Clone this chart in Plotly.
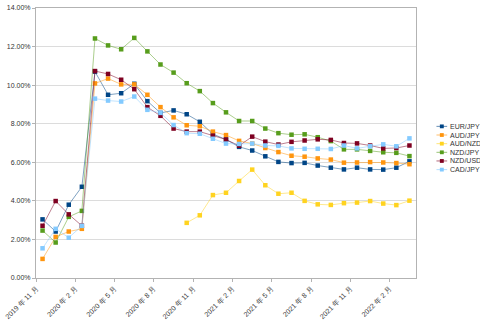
import plotly.graph_objects as go
import pandas as pd

# Monthly periods, Nov 2019 .. Mar 2022
months = pd.period_range("2019-11", "2022-03", freq="M")
month_labels = [f"{p.year} 年 {p.month} 月" for p in months]

eur_jpy = [3.04, 2.41, 3.80, 4.73, 10.70, 9.50, 9.58, 10.07, 9.17, 8.56,
           8.69, 8.49, 8.10, 7.46, 7.18, 6.80, 6.61, 6.31, 6.02, 5.96,
           5.97, 5.83, 5.72, 5.63, 5.72, 5.63, 5.62, 5.72, 6.05]
aud_jpy = [0.99, 2.13, 2.41, 2.55, 10.09, 10.34, 10.04, 10.04, 9.50, 8.86,
           8.33, 7.92, 7.87, 7.59, 7.41, 7.11, 6.97, 6.74, 6.53, 6.34,
           6.29, 6.20, 6.14, 5.98, 5.99, 6.01, 5.99, 5.96, 5.90]
aud_nzd = [None] * 11 + [2.86, 3.25, 4.30, 4.42, 5.03, 5.62, 4.81, 4.37, 4.42,
                         4.00, 3.82, 3.79, 3.88, 3.91, 3.99, 3.86, 3.78, 4.01]
nzd_jpy = [2.46, 1.84, 3.17, 3.48, 12.42, 12.06, 11.86, 12.45, 11.75, 11.07,
           10.65, 10.10, 9.69, 9.07, 8.59, 8.14, 8.14, 7.75, 7.51, 7.43,
           7.45, 7.30, 7.10, 6.67, 6.67, 6.59, 6.52, 6.49, 6.32]
nzd_usd = [2.71, 3.99, 3.30, 2.71, 10.73, 10.58, 10.28, 9.79, 8.86, 8.41,
           7.75, 7.59, 7.59, 7.38, 7.18, 6.86, 7.33, 7.07, 6.92, 7.06,
           7.13, 7.19, 7.16, 7.00, 6.98, 6.87, 6.72, 6.74, 6.87]
cad_jpy = [1.54, 2.55, 2.09, 2.70, 9.30, 9.20, 9.15, 9.41, 8.72, 8.56,
           7.93, 7.51, 7.48, 7.22, 6.97, 6.95, 6.97, 6.87, 6.85, 6.72,
           6.70, 6.70, 6.69, 6.87, 6.72, 6.83, 6.93, 6.83, 7.24]

series = [
    ("EUR/JPY", eur_jpy, "#004586"),
    ("AUD/JPY", aud_jpy, "#ff950e"),
    ("AUD/NZD", aud_nzd, "#ffd320"),
    ("NZD/JPY", nzd_jpy, "#579d1c"),
    ("NZD/USD", nzd_usd, "#7e0021"),
    ("CAD/JPY", cad_jpy, "#83caff"),
]


def fade(hex_color, a):
    h = hex_color.lstrip("#")
    r, g, b = (int(h[i:i + 2], 16) for i in (0, 2, 4))
    return f"rgba({r},{g},{b},{a})"


W, H = 480, 324
M_L, M_R, M_T, M_B = 26, 64, 4, 36
PW, PH = W - M_L - M_R, H - M_T - M_B
FONT = "Liberation Sans, Arial, sans-serif"

x_idx = list(range(len(months)))

fig = go.Figure()
for name, vals, col in series:
    fig.add_trace(go.Scatter(
        x=x_idx, y=vals, name=name, mode="lines+markers",
        line=dict(color=fade(col, 0.5), width=1),
        marker=dict(symbol="square", size=4.5, color=col, line=dict(width=0)),
        connectgaps=False, showlegend=False,
    ))

# Legend drawn as shapes + annotations in paper coordinates
def px_x(px):
    return (px - M_L) / PW


def px_y(py):
    return (H - M_B - py) / PH


shapes = []
annotations = []
row0, row_gap = 128.5, 9.1
for i, (name, vals, col) in enumerate(series):
    yy = row0 + i * row_gap
    shapes.append(dict(type="line", xref="paper", yref="paper",
                       x0=px_x(437), x1=px_x(448), y0=px_y(yy), y1=px_y(yy),
                       line=dict(color=fade(col, 0.6), width=1)))
    shapes.append(dict(type="rect", xref="paper", yref="paper",
                       x0=px_x(440.5), x1=px_x(444.5),
                       y0=px_y(yy - 2), y1=px_y(yy + 2),
                       fillcolor=col, line=dict(width=0)))
    annotations.append(dict(text=name, xref="paper", yref="paper",
                            x=px_x(449), y=px_y(yy), xanchor="left",
                            yanchor="middle", showarrow=False,
                            font=dict(family=FONT, size=7, color="#333333")))

tick_pos = [i - 0.5 for i in range(0, len(months), 3)]
tick_txt = [month_labels[i] for i in range(0, len(months), 3)]

fig.update_layout(
    width=W, height=H,
    margin=dict(l=M_L, r=M_R, t=M_T, b=M_B, pad=0),
    paper_bgcolor="white", plot_bgcolor="white",
    font=dict(family=FONT, size=7, color="#333333"),
    shapes=shapes, annotations=annotations,
    xaxis=dict(
        range=[-0.5, len(months) - 0.5],
        tickmode="array", tickvals=tick_pos, ticktext=tick_txt,
        tickangle=-45, ticks="outside", ticklen=3, tickcolor="#b3b3b3",
        showgrid=False, zeroline=False,
        showline=True, linecolor="#b3b3b3", linewidth=1, mirror=True,
        tickfont=dict(size=7, color="#333333"),
    ),
    yaxis=dict(
        range=[0, 14], dtick=2, tickformat=".2f", ticksuffix="%",
        ticks="outside", ticklen=3, tickcolor="#b3b3b3",
        showgrid=True, gridcolor="#dcdcdc", gridwidth=1.3,
        zeroline=False,
        showline=True, linecolor="#b3b3b3", linewidth=1, mirror=True,
        tickfont=dict(size=7, color="#333333"),
    ),
)

fig.write_html("out.html")
